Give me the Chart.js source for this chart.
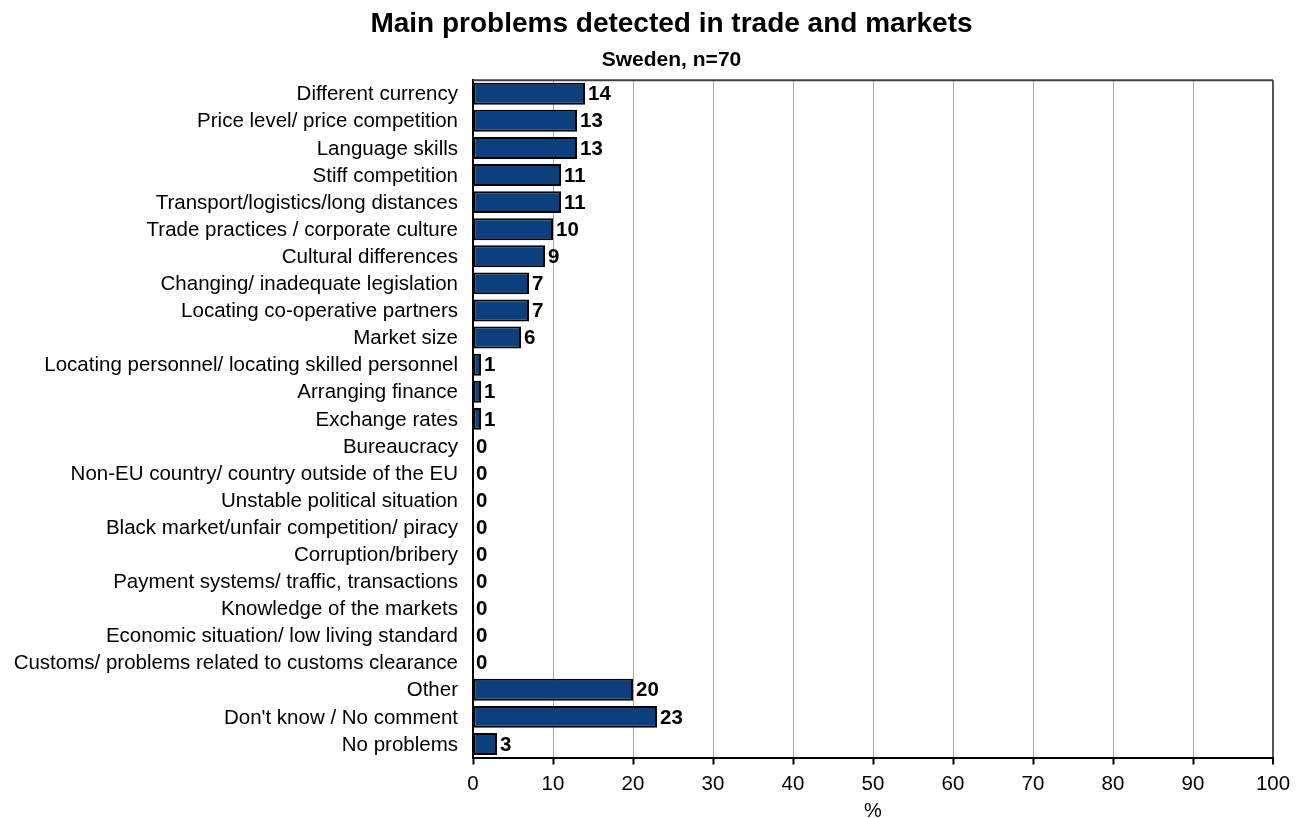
<!DOCTYPE html>
<html>
<head>
<meta charset="utf-8">
<title>Main problems detected in trade and markets</title>
<script src="https://cdn.jsdelivr.net/npm/chart.js@4/dist/chart.umd.min.js"></script>
<style>
  html, body { margin: 0; padding: 0; background: #ffffff; }
  #wrap { width: 1303px; height: 818px; }
</style>
</head>
<body>
<div id="wrap"><canvas id="chart" width="1303" height="818"></canvas></div>
<script>
// Problem categories, top to bottom
const categories = [
  "Different currency",
  "Price level/ price competition",
  "Language skills",
  "Stiff competition",
  "Transport/logistics/long distances",
  "Trade practices / corporate culture",
  "Cultural differences",
  "Changing/ inadequate legislation",
  "Locating co-operative partners",
  "Market size",
  "Locating personnel/ locating skilled personnel",
  "Arranging finance",
  "Exchange rates",
  "Bureaucracy",
  "Non-EU country/ country outside of the EU",
  "Unstable political situation",
  "Black market/unfair competition/ piracy",
  "Corruption/bribery",
  "Payment systems/ traffic, transactions",
  "Knowledge of the markets",
  "Economic situation/ low living standard",
  "Customs/ problems related to customs clearance",
  "Other",
  "Don't know / No comment",
  "No problems"
];

// Share of respondents (%)
const shares = [14, 13, 13, 11, 11, 10, 9, 7, 7, 6, 1, 1, 1, 0, 0, 0, 0, 0, 0, 0, 0, 0, 20, 23, 3];

// Percentage axis
const axisMin = 0;
const axisMax = 100;
const axisStep = 10;

const chartTitle = "Main problems detected in trade and markets";
const chartSubtitle = "Sweden, n=70";
const axisTitle = "%";

const FONT = "'Liberation Sans', Arial, Helvetica, sans-serif";
const LABEL_SIZE = 20.5;

// Category names beside the bars; long names slide right instead of being cut off
const categoryLabels = {
  id: 'categoryLabels',
  afterDraw(chart) {
    const ctx = chart.ctx;
    const y = chart.scales.y;
    const gap = 15;
    const margin = 8;
    ctx.save();
    ctx.font = LABEL_SIZE + "px " + FONT;
    ctx.fillStyle = "#000";
    ctx.textAlign = "right";
    ctx.textBaseline = "middle";
    chart.data.labels.forEach((name, i) => {
      const w = ctx.measureText(name).width;
      const right = Math.max(y.right - gap, margin + w);
      ctx.fillText(name, right, y.getPixelForTick(i) + 1);
    });
    ctx.restore();
  }
};

// Value labels at the end of each bar
const valueLabels = {
  id: 'valueLabels',
  afterDatasetsDraw(chart) {
    const ctx = chart.ctx;
    const meta = chart.getDatasetMeta(0);
    ctx.save();
    ctx.font = "bold " + LABEL_SIZE + "px " + FONT;
    ctx.fillStyle = "#000";
    ctx.textAlign = "left";
    ctx.textBaseline = "middle";
    meta.data.forEach((bar, i) => {
      const v = chart.data.datasets[0].data[i];
      ctx.fillText(String(Math.round(v)), bar.x + 3, bar.y + 1);
    });
    ctx.restore();
  }
};

// Top frame line of the plot area
const plotFrame = {
  id: 'plotFrame',
  beforeDatasetsDraw(chart) {
    const { ctx, chartArea } = chart;
    ctx.save();
    ctx.strokeStyle = "#404040";
    ctx.lineWidth = 2;
    ctx.beginPath();
    ctx.moveTo(chartArea.left, chartArea.top);
    ctx.lineTo(chartArea.right, chartArea.top);
    ctx.stroke();
    ctx.restore();
  }
};

new Chart(document.getElementById("chart"), {
  type: "bar",
  data: {
    labels: categories,
    datasets: [{
      data: shares,
      backgroundColor: "#0b3f7d",
      borderColor: "#000000",
      borderWidth: 2,
      borderSkipped: false,
      categoryPercentage: 1.0,
      barPercentage: 0.81
    }]
  },
  options: {
    indexAxis: "y",
    responsive: false,
    animation: false,
    layout: { padding: { left: 70, right: 30, top: 0, bottom: 0 } },
    plugins: {
      legend: { display: false },
      tooltip: { enabled: false },
      title: {
        display: true,
        text: chartTitle,
        color: "#000",
        font: { family: FONT, size: 28, weight: "bold", lineHeight: 1.2 },
        padding: { top: 7, bottom: 7.4 }
      },
      subtitle: {
        display: true,
        text: chartSubtitle,
        color: "#000",
        font: { family: FONT, size: 21, weight: "bold", lineHeight: 1.2 },
        padding: { top: 0, bottom: 7 }
      }
    },
    scales: {
      x: {
        type: "linear",
        position: "bottom",
        min: axisMin,
        max: axisMax,
        ticks: {
          stepSize: axisStep,
          color: "#000",
          font: { family: FONT, size: LABEL_SIZE, lineHeight: 1.0 },
          padding: 9.5,
          maxRotation: 0
        },
        grid: {
          color: (c) => c.tick && c.tick.value === axisMax ? "#555555" : "#a6a6a6",
          lineWidth: (c) => c.tick && c.tick.value === axisMax ? 2 : 1,
          tickColor: "#000",
          tickLength: 7,
          tickWidth: 2
        },
        border: { display: true, color: "#000", width: 2 },
        title: {
          display: true,
          text: axisTitle,
          color: "#000",
          font: { family: FONT, size: 20, lineHeight: 0.7 },
          padding: { top: 0, bottom: 0 }
        }
      },
      y: {
        type: "category",
        ticks: { display: false, autoSkip: false },
        grid: { display: false, drawTicks: false },
        border: { display: true, color: "#000", width: 2 },
        afterFit(scale) { scale.width = 403; }
      }
    }
  },
  plugins: [valueLabels, plotFrame, categoryLabels]
});
</script>
</body>
</html>
